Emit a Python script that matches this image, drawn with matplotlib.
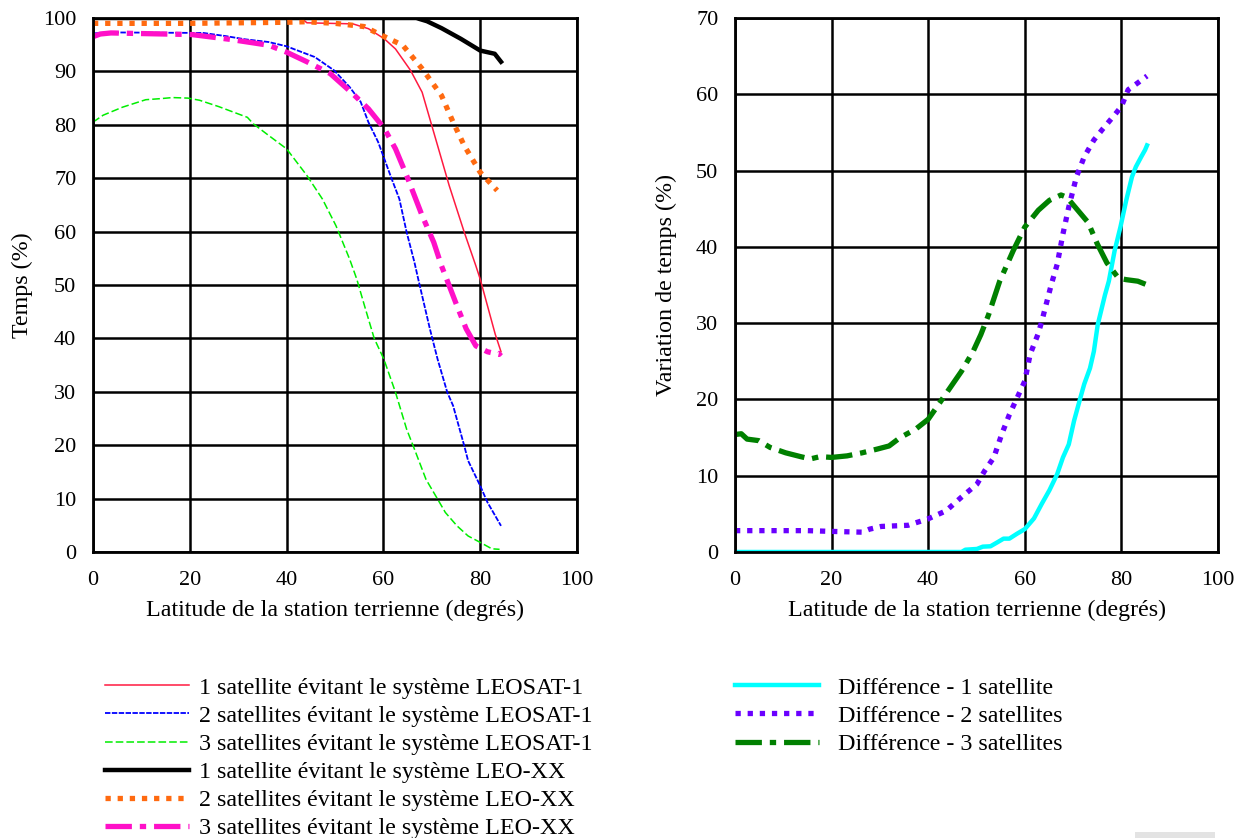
import numpy as np
import matplotlib.pyplot as plt
from matplotlib.patches import Rectangle

plt.rcParams['font.family'] = ['Liberation Serif', 'DejaVu Serif']
plt.rcParams['font.size'] = 16

# ---------------------------------------------------------------
# Left chart: percentage of time vs latitude
# ---------------------------------------------------------------
lat_r1 = [0, 3, 43, 44.2, 53.7, 56.9, 60.2, 62.5, 65.6, 68, 70.4, 73.6, 76.7, 79.1, 80, 83.1, 84.3]
val_r1 = [100, 100, 100, 99.1, 98.9, 98, 96.1, 94.2, 90.2, 86.1, 78.6, 68.6, 59.9, 53.6, 51.1, 40.8, 37.5]

lat_b2 = [0, 3, 22.8, 27.5, 31.5, 36.3, 40, 42.6, 45.8, 49.8, 53, 55.3, 56.9, 58.9, 60.2, 61.7,
          63.3, 64.8, 66.4, 67.2, 69.6, 71.2, 73.2, 74.4, 76.7, 77.5, 80, 81.5, 84.3]
val_b2 = [97.1, 97.3, 97.2, 96.6, 96, 95.5, 94.7, 93.8, 92.7, 90.2, 87.1, 84.3, 80.5, 76.8, 73.6, 69.9,
          66.1, 59.9, 54.3, 51.1, 41.8, 36.1, 29.9, 27.4, 19.9, 17.1, 12.4, 9.3, 4.9]

lat_g3 = [0, 2.1, 6.1, 10.9, 14, 16.4, 19.6, 22, 26, 30.7, 31.9, 33.1, 36.3, 40, 44.2, 47.4, 50.2,
          53, 54.5, 56.1, 58.1, 60.1, 62.5, 64.8, 66.4, 68.8, 71.2, 72.8, 75.2, 77.5, 80, 82.4, 84]
val_g3 = [80.5, 81.8, 83.3, 84.7, 84.9, 85.1, 85, 84.6, 83.4, 81.8, 81.4, 80.2, 78, 75.5, 70.5, 66.1, 61.1,
          54.9, 51.1, 46.1, 40, 36.1, 29.9, 23, 19.3, 13.6, 9.9, 7.4, 4.9, 3, 1.8, 0.6, 0.5]

lat_k1 = [0, 20, 40, 60, 66.8, 69, 72, 76, 80, 83, 84.3]
val_k1 = [100, 100, 100, 100, 100, 99.4, 98.1, 96.1, 93.9, 93.3, 91.8]

lat_o2 = [0, 20, 40, 44, 50, 56, 60, 64, 68, 72, 74.4, 76.7, 80, 83.5]
val_o2 = [99.0, 99.0, 99.2, 99.3, 99.0, 98.4, 96.6, 94.9, 90.5, 85.5, 80.5, 76.1, 71.1, 67.7]

lat_m3 = [0, 1.5, 3.7, 20.4, 28.3, 36.3, 40, 44.2, 49, 53.7, 56.9, 60.2, 62.5, 64.8, 68, 70.4, 72,
          73.2, 75.2, 77.1, 79.1, 81.5, 83.9, 84.3]
val_m3 = [96.5, 97.0, 97.2, 96.9, 96, 94.9, 93.6, 91.8, 89.6, 85.8, 83, 79.3, 75.5, 70.5, 63, 58, 53.6,
          50.8, 46.1, 41.8, 38.6, 37.5, 37, 37.4]

# ---------------------------------------------------------------
# Right chart: variation of time vs latitude
# ---------------------------------------------------------------
lat_c1 = [0, 20, 40, 46.9, 47.7, 50.1, 51.3, 52.9, 54.4, 55.6, 56.8, 58.4, 60, 61.9, 63.5, 65.1, 66.7,
          67.9, 69.1, 70.2, 71.5, 72.3, 73.5, 74.3, 75.1, 76.6, 77.4, 78.6, 79.8, 81, 82.2, 83, 84.1, 84.9, 85.3]
val_c1 = [0, 0, 0, 0, 0.3, 0.4, 0.7, 0.75, 1.3, 1.75, 1.75, 2.4, 3, 4.4, 6.3, 8.1, 10.2,
          12.4, 14.1, 17.2, 20.2, 22, 24.1, 26.3, 29.8, 33.7, 35.5, 39.5, 42.6, 46.1, 49.2, 50.5, 51.8, 52.7, 53.3]

lat_p2 = [0, 15, 20, 26.3, 27.9, 30.3, 35.8, 40, 43.7, 46.9, 50.1, 51.7, 53.6, 55.2, 56.8, 58.4, 60,
          61.1, 62.7, 63.5, 65.5, 66.7, 67.9, 69.1, 70.7, 72.3, 74.3, 76.2, 78.6, 80, 81.4, 83.4, 85.3]
val_p2 = [2.8, 2.8, 2.7, 2.6, 3, 3.35, 3.5, 4.35, 5.4, 7.2, 8.9, 10.65, 12.4, 15.4, 18, 20.2, 22.4,
          25.9, 28.5, 30.2, 35.1, 37.7, 41.7, 45.2, 49.2, 51.8, 54, 55.5, 57.3, 58.4, 60.6, 61.5, 62.4]

lat_d3 = [0, 1.3, 2.5, 4.9, 7.3, 10.5, 13.6, 15.6, 17.6, 20, 23.2, 26.3, 29.5, 31.9, 34.2, 37.4, 40,
          42.1, 44.5, 46.9, 49.3, 50.9, 52.5, 54.8, 57.6, 60, 62.8, 65.1, 67.5, 68.7, 70.7, 73.1, 75,
          77, 79.4, 81, 83.4, 85]
val_d3 = [15.4, 15.5, 14.8, 14.6, 13.7, 13, 12.5, 12.2, 12.5, 12.4, 12.6, 13, 13.5, 13.9, 15, 16.1, 17.4,
          19.3, 21.5, 23.7, 26.3, 28.5, 31.1, 35.5, 39.5, 42.6, 44.8, 46.1, 46.8, 46.5, 45, 43.2, 40.4,
          37.9, 35.9, 35.7, 35.5, 35.1]

left_labels = ["1 satellite évitant le système LEOSAT-1",
               "2 satellites évitant le système LEOSAT-1",
               "3 satellites évitant le système LEOSAT-1",
               "1 satellite évitant le système LEO-XX",
               "2 satellites évitant le système LEO-XX",
               "3 satellites évitant le système LEO-XX"]
right_labels = ["Différence - 1 satellite",
                "Différence - 2 satellites",
                "Différence - 3 satellites"]
xlabel = "Latitude de la station terrienne (degrés)"

label_size = 17.3


def style_axes(ax, ymax, ystep):
    ax.set_xlim(0, 100)
    ax.set_ylim(0, ymax)
    ax.set_xticks(np.arange(0, 101, 20))
    ax.set_yticks(np.arange(0, ymax + 1, ystep))
    ax.grid(True, color='black', linewidth=1.8)
    ax.set_axisbelow(True)
    for s in ax.spines.values():
        s.set_linewidth(2)
    ax.tick_params(axis='y', length=0, pad=12, labelsize=16)
    ax.tick_params(axis='x', length=0, pad=14, labelsize=16)
    ax.set_xlabel(xlabel, fontsize=label_size, labelpad=7)


fig = plt.figure(figsize=(12.41, 8.38), dpi=100)

# left chart
ax1 = fig.add_axes([93 / 1241, 1 - 552 / 838, 484 / 1241, 534 / 838])
l1, = ax1.plot(lat_r1, val_r1, color='#ff1a40', lw=1.1)
l2, = ax1.plot(lat_b2, val_b2, color='#0000ff', lw=1.3, dashes=(3, 0.8))
l3, = ax1.plot(lat_g3, val_g3, color='#00ee00', lw=1.1, dashes=(5, 2))
l4, = ax1.plot(lat_k1, val_k1, color='black', lw=3.2)
l5, = ax1.plot(lat_o2, val_o2, color='#ff6a10', lw=3.8, dashes=(1, 1.3), dash_capstyle='butt')
l6, = ax1.plot(lat_m3, val_m3, color='#ff10c8', lw=3.8, dashes=(5, 1.5, 1.2, 1.5), dash_capstyle='butt')
style_axes(ax1, 100, 10)
ax1.set_ylabel("Temps (%)", fontsize=label_size, labelpad=7)

# right chart
ax2 = fig.add_axes([735 / 1241, 1 - 552 / 838, 483 / 1241, 534 / 838])
r1, = ax2.plot(lat_c1, val_c1, color='#00ffff', lw=3.2)
r2, = ax2.plot(lat_p2, val_p2, color='#6a00ff', lw=3.8, dashes=(1, 1.3), dash_capstyle='butt')
r3, = ax2.plot(lat_d3, val_d3, color='#008000', lw=3.8, dashes=(5, 1.5, 1.2, 1.5), dash_capstyle='butt')
style_axes(ax2, 70, 10)
ax2.set_ylabel("Variation de temps (%)", fontsize=label_size, labelpad=14)

# legends under each chart
fig.legend([l1, l2, l3, l4, l5, l6], left_labels, loc='upper left',
           bbox_to_anchor=(105 / 1241, 1 - 677 / 838), frameon=False, fontsize=label_size,
           handlelength=3.5, handletextpad=0.4, labelspacing=0.26, borderpad=0, borderaxespad=0)
fig.legend([r1, r2, r3], right_labels, loc='upper left',
           bbox_to_anchor=(735 / 1241, 1 - 677 / 838), frameon=False, fontsize=label_size,
           handlelength=3.5, handletextpad=0.8, labelspacing=0.26, borderpad=0, borderaxespad=0)

# small grey tag at the bottom right corner
fig.patches.append(Rectangle((1135 / 1241, 0), 80 / 1241, 6 / 838, transform=fig.transFigure,
                             facecolor='#e3e3e3', edgecolor='none'))

fig.savefig("out.png", dpi=100)
